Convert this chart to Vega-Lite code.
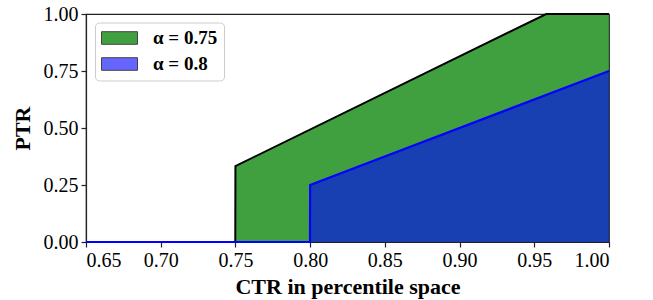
{
  "$schema": "https://vega.github.io/schema/vega-lite/v6.json",
  "width": 523,
  "height": 228,
  "autosize": "none",
  "padding": {"left": 86, "top": 14, "right": 44, "bottom": 58},
  "config": {
    "font": "Liberation Serif",
    "view": {"stroke": "#222", "strokeWidth": 1.2}
  },
  "data": {
    "values": [
      {"s": "α = 0.75", "x": 0.65, "y": 0, "o": 1},
      {"s": "α = 0.75", "x": 0.7499, "y": 0, "o": 2},
      {"s": "α = 0.75", "x": 0.75, "y": 0.333, "o": 3},
      {"s": "α = 0.75", "x": 0.958, "y": 1, "o": 4},
      {"s": "α = 0.75", "x": 1.0, "y": 1, "o": 5},
      {"s": "α = 0.8", "x": 0.65, "y": 0, "o": 1},
      {"s": "α = 0.8", "x": 0.7999, "y": 0, "o": 2},
      {"s": "α = 0.8", "x": 0.8, "y": 0.25, "o": 3},
      {"s": "α = 0.8", "x": 1.0, "y": 0.75, "o": 4}
    ]
  },
  "encoding": {
    "x": {
      "field": "x", "type": "quantitative",
      "scale": {"domain": [0.65, 1.0], "nice": false, "zero": false},
      "axis": {
        "values": [0.65, 0.7, 0.75, 0.8, 0.85, 0.9, 0.95, 1.0], "format": ".2f",
        "title": "CTR in percentile space", "titlePadding": 6,
        "grid": false, "labelFont": "Liberation Serif", "labelFontSize": 20, "labelColor": "black",
        "labelPadding": 3, "tickSize": 5, "tickColor": "#222", "domainColor": "#222", "tickWidth": 1.2, "domainWidth": 1.2,
        "titleFont": "Liberation Serif", "titleFontSize": 22, "titleFontWeight": "bold", "titleColor": "black"
      }
    },
    "y": {
      "field": "y", "type": "quantitative",
      "scale": {"domain": [0, 1], "nice": false},
      "axis": {
        "values": [0, 0.25, 0.5, 0.75, 1], "format": ".2f", "title": "PTR", "titlePadding": 9,
        "grid": false, "labelFont": "Liberation Serif", "labelFontSize": 20, "labelColor": "black",
        "labelPadding": 3, "tickSize": 5, "tickColor": "#222", "domainColor": "#222", "tickWidth": 1.2, "domainWidth": 1.2,
        "titleFont": "Liberation Serif", "titleFontSize": 22, "titleFontWeight": "bold", "titleColor": "black"
      }
    }
  },
  "layer": [
    {
      "transform": [{"filter": "datum.s === 'α = 0.75'"}],
      "mark": {"type": "area", "clip": true},
      "encoding": {
        "fill": {
          "field": "s", "type": "nominal",
          "scale": {"domain": ["α = 0.75", "α = 0.8"], "range": ["rgba(0,128,0,0.75)", "rgba(0,0,255,0.6)"]},
          "legend": {
            "title": null,
            "orient": "none",
            "legendX": 9,
            "legendY": 8.5,
            "fillColor": "white",
            "strokeColor": "#cccccc",
            "cornerRadius": 4,
            "padding": 6,
            "rowPadding": 6,
            "symbolType": "M-1,-0.7H3V0.7H-1Z",
            "symbolSize": 324,
            "symbolStrokeColor": "#444",
            "symbolStrokeWidth": 1,
            "labelFont": "Liberation Serif",
            "labelFontSize": 19,
            "labelFontWeight": "bold",
            "labelColor": "black",
            "labelOffset": 33
          }
        }
      }
    },
    {
      "transform": [{"filter": "datum.s === 'α = 0.75'"}],
      "mark": {"type": "line", "color": "black", "strokeWidth": 2},
      "encoding": {"order": {"field": "o", "type": "quantitative"}}
    },
    {
      "transform": [{"filter": "datum.s === 'α = 0.8'"}],
      "mark": {"type": "area", "clip": true},
      "encoding": {
        "fill": {"field": "s", "type": "nominal"}
      }
    },
    {
      "transform": [{"filter": "datum.s === 'α = 0.8'"}],
      "mark": {"type": "line", "color": "blue", "strokeWidth": 2.2},
      "encoding": {"order": {"field": "o", "type": "quantitative"}}
    }
  ]
}
